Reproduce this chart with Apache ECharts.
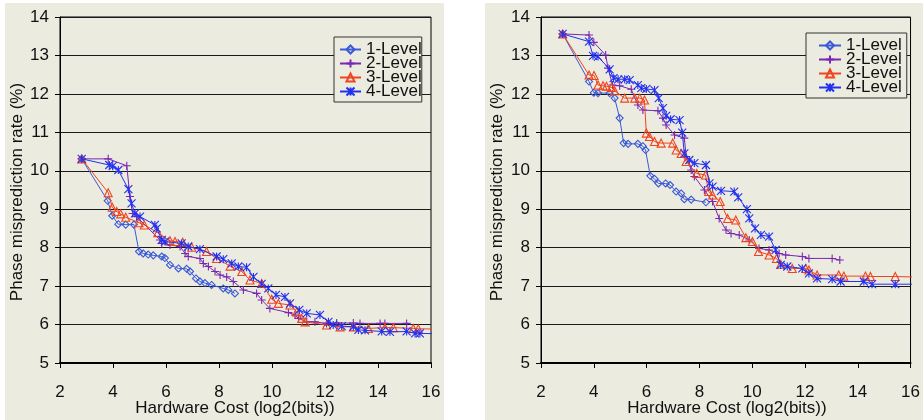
<!DOCTYPE html>
<html>
<head>
<meta charset="utf-8">
<script src="https://cdn.jsdelivr.net/npm/echarts@6/dist/echarts.min.js"></script>
<style>html,body{margin:0;padding:0;background:#fff;}#c{width:923px;height:420px;}</style>
</head>
<body>
<div id="c"></div>
<script>
// ---------- data ----------
const seriesNames = ['1-Level', '2-Level', '3-Level', '4-Level'];
const xTicks = [2, 4, 6, 8, 10, 12, 14, 16];
const yTicks = [5, 6, 7, 8, 9, 10, 11, 12, 13, 14];

const left1 = [[2.82,10.31],[3.80,9.22],[3.97,8.83],[4.20,8.61],[4.48,8.60],[4.79,8.60],[4.98,7.90],[5.14,7.85],[5.33,7.82],[5.52,7.80],[5.84,7.77],[5.96,7.73],[6.15,7.55],[6.47,7.46],[6.78,7.45],[6.91,7.38],[7.13,7.20],[7.28,7.12],[7.47,7.08],[7.72,7.03],[8.16,6.94],[8.35,6.90],[8.60,6.81]];
const left2 = [[2.82,10.31],[3.82,10.31],[4.52,10.13],[4.64,9.33],[4.74,8.89],[4.89,8.81],[5.77,8.20],[5.84,8.11],[6.15,8.07],[6.53,8.03],[6.72,7.85],[6.84,7.77],[7.28,7.72],[7.41,7.59],[7.60,7.51],[7.85,7.38],[8.04,7.29],[8.29,7.24],[8.54,7.12],[8.92,6.90],[9.42,6.81],[9.61,6.64],[9.92,6.42],[10.62,6.31],[10.87,6.25],[11.00,6.16],[11.31,6.07],[11.62,6.07],[12.06,6.03],[12.44,6.04],[13.07,6.04],[13.32,6.03],[14.08,6.03],[14.26,6.03],[15.08,6.03]];
const left3 = [[2.82,10.31],[3.82,9.43],[3.97,9.05],[4.14,8.94],[4.29,8.88],[4.48,8.79],[4.98,8.65],[5.18,8.59],[5.69,8.39],[6.15,8.18],[6.34,8.16],[6.63,8.14],[6.97,8.01],[7.53,7.90],[7.91,7.72],[8.42,7.52],[8.86,7.38],[9.17,7.16],[9.61,7.07],[9.99,6.66],[10.24,6.55],[10.68,6.51],[10.93,6.33],[11.12,6.16],[11.25,6.07],[12.06,5.99],[12.57,5.94],[13.07,5.94],[13.64,5.90],[14.26,5.92],[14.58,5.92],[15.33,5.90],[15.52,5.89],[16.30,5.88]];
const left4 = [[2.82,10.31],[3.86,10.15],[3.99,10.12],[4.20,10.02],[4.58,9.52],[4.70,9.15],[4.83,8.89],[5.02,8.81],[5.58,8.59],[5.65,8.50],[5.84,8.20],[5.96,8.16],[6.59,8.11],[6.84,8.03],[7.28,7.96],[7.91,7.77],[8.16,7.70],[8.48,7.59],[8.73,7.51],[9.04,7.49],[9.30,7.24],[9.61,7.06],[9.86,6.94],[10.15,6.77],[10.49,6.72],[10.68,6.55],[11.03,6.38],[11.31,6.29],[11.81,6.25],[12.13,6.07],[12.31,5.99],[12.63,5.96],[13.07,5.94],[13.26,5.86],[13.51,5.85],[14.14,5.82],[14.45,5.81],[15.08,5.82],[15.40,5.77],[15.58,5.77],[16.30,5.76]];

const right1 = [[2.82,13.56],[3.82,12.32],[4.00,12.03],[4.16,12.02],[4.60,12.02],[4.79,11.89],[4.98,11.37],[5.13,10.72],[5.30,10.70],[5.67,10.70],[5.86,10.64],[5.96,10.54],[6.14,9.87],[6.30,9.79],[6.45,9.67],[6.72,9.67],[6.89,9.63],[7.12,9.46],[7.31,9.41],[7.43,9.26],[7.69,9.25],[8.25,9.18]];
const right2 = [[2.82,13.56],[3.82,13.53],[4.00,13.34],[4.45,13.01],[4.54,12.67],[4.71,12.23],[4.98,12.21],[5.42,12.12],[5.67,11.71],[5.86,11.58],[6.43,11.56],[6.62,11.37],[6.74,11.19],[7.06,10.93],[7.43,10.85],[7.50,10.37],[7.69,10.02],[7.81,9.85],[8.19,9.50],[8.50,9.20],[8.75,8.76],[9.01,8.46],[9.20,8.37],[9.51,8.33],[9.89,8.20],[10.26,7.98],[10.64,7.94],[11.02,7.85],[11.27,7.81],[11.90,7.77],[12.15,7.72],[13.03,7.72],[13.32,7.68]];
const right3 = [[2.82,13.56],[3.82,12.49],[4.01,12.48],[4.16,12.23],[4.35,12.21],[4.48,12.20],[4.67,12.17],[4.79,12.08],[5.17,11.89],[5.55,11.89],[5.74,11.89],[5.92,11.84],[5.99,10.98],[6.11,10.89],[6.30,10.76],[6.55,10.72],[6.99,10.72],[7.12,10.54],[7.31,10.45],[7.50,10.24],[7.90,9.93],[8.23,9.89],[8.35,9.46],[8.50,9.37],[8.79,9.20],[9.07,8.76],[9.38,8.72],[9.76,8.26],[10.01,8.16],[10.24,7.90],[10.64,7.81],[10.92,7.72],[11.08,7.57],[11.52,7.46],[12.03,7.46],[12.15,7.42],[12.46,7.29],[13.28,7.29],[13.47,7.26],[14.29,7.26],[14.48,7.25],[15.42,7.25],[16.42,7.23]];
const right4 = [[2.82,13.56],[3.82,13.36],[3.97,12.99],[4.16,12.97],[4.60,12.64],[4.75,12.41],[4.92,12.38],[5.17,12.38],[5.36,12.36],[5.67,12.23],[5.80,12.15],[5.99,12.13],[6.30,12.10],[6.46,11.89],[6.62,11.63],[6.74,11.43],[6.91,11.34],[7.25,11.32],[7.35,10.99],[7.43,10.45],[7.62,10.28],[7.81,10.20],[8.25,10.15],[8.38,9.67],[8.50,9.59],[8.82,9.48],[9.32,9.46],[9.47,9.31],[9.80,9.00],[9.89,8.76],[10.11,8.50],[10.33,8.33],[10.64,8.29],[10.89,7.94],[11.08,7.55],[11.33,7.51],[11.90,7.46],[12.15,7.33],[12.46,7.20],[13.03,7.18],[13.35,7.12],[14.23,7.12],[14.54,7.05],[15.42,7.05],[16.42,7.05]];

const xTitle = 'Hardware Cost (log2(bits))';
const yTitle = 'Phase misprediction rate (%)';

// ---------- styling ----------
const BEIGE = '#ECEBE0';
const FONT = "'Liberation Sans', Arial, sans-serif";
const TXT = '#111';
const FS = 17;
const colors = ['#3A5AD8', '#7A28B0', '#F0441E', '#2230F0'];
const symbols = [
  'diamond',
  'path://M0,5L10,5M5,0L5,10',
  'triangle',
  'path://M0,0L10,10M10,0L0,10M5,0L5,10'
];
const symSizes = [7, 8, 8, 8];

const chart = echarts.init(document.getElementById('c'), null, {renderer: 'canvas'});

function makeAxes(idx, left) {
  return {
    grid: {left: left, top: 17, width: 371, height: 346, show: true, borderColor: '#000', borderWidth: 1, backgroundColor: 'transparent'},
    x: {
      type: 'value', gridIndex: idx, min: xTicks[0], max: xTicks[xTicks.length - 1], interval: 2,
      axisLine: {show: true, onZero: false, lineStyle: {color: '#000', width: 2}},
      axisTick: {show: true, inside: false, length: 5, lineStyle: {color: '#000'}},
      axisLabel: {show: true, margin: 21, fontSize: FS, color: TXT, fontFamily: FONT},
      splitLine: {show: false}
    },
    y: {
      type: 'value', gridIndex: idx, min: yTicks[0], max: yTicks[yTicks.length - 1], interval: 1,
      axisLine: {show: true, onZero: false, lineStyle: {color: '#000', width: 1}},
      axisTick: {show: true, inside: false, length: 5, lineStyle: {color: '#000'}},
      axisLabel: {show: true, margin: 11, fontSize: FS, color: TXT, fontFamily: FONT},
      splitLine: {show: true, lineStyle: {color: '#1a1a1a', width: 1}}
    }
  };
}
const a0 = makeAxes(0, 60), a1 = makeAxes(1, 541);

function mkSeries(data, k, idx) {
  return {
    type: 'line', name: seriesNames[k], xAxisIndex: idx, yAxisIndex: idx,
    clip: false, animation: false,
    data: data.map(p => p[0] > 16 ? {value: p, symbol: 'none'} : p),
    symbol: symbols[k], symbolSize: symSizes[k], showAllSymbol: true,
    lineStyle: {color: colors[k], width: 1},
    itemStyle: {color: 'rgba(0,0,0,0)', borderColor: colors[k], borderWidth: 1.1},
    emphasis: {disabled: true},
    z: 2 + k
  };
}
const leftData = [left1, left2, left3, left4];
const rightData = [right1, right2, right3, right4];
const series = [];
leftData.forEach((d, k) => series.push(mkSeries(d, k, 0)));
rightData.forEach((d, k) => series.push(mkSeries(d, k, 1)));

function mkLegend(left, top, pad, iw) {
  return {
    data: seriesNames, orient: 'vertical', left: left, top: top,
    padding: pad, itemGap: -3, itemWidth: iw, itemHeight: 10,
    backgroundColor: BEIGE, borderColor: '#333', borderWidth: 1, borderRadius: 0,
    selectedMode: false,
    textStyle: {fontSize: FS, color: TXT, fontFamily: FONT}
  };
}

chart.setOption({
  backgroundColor: '#ffffff',
  animation: false,
  textStyle: {fontFamily: FONT},
  grid: [a0.grid, a1.grid],
  xAxis: [a0.x, a1.x],
  yAxis: [a0.y, a1.y],
  legend: [mkLegend(334, 37, [4, 0, 2, 5], 21), mkLegend(806, 33, [4, 5, 2, 12], 22)],
  graphic: [
    {type: 'rect', shape: {x: 5, y: 3, width: 439, height: 417}, style: {fill: BEIGE}, z: -100, silent: true},
    {type: 'rect', shape: {x: 485, y: 3, width: 438, height: 417}, style: {fill: BEIGE}, z: -100, silent: true},
    {type: 'text', x: 235, y: 408, style: {text: xTitle, fontSize: FS, fill: TXT, fontFamily: FONT, align: 'center', verticalAlign: 'middle'}, silent: true},
    {type: 'text', x: 727, y: 408, style: {text: xTitle, fontSize: FS, fill: TXT, fontFamily: FONT, align: 'center', verticalAlign: 'middle'}, silent: true},
    {type: 'text', x: 17, y: 192, rotation: Math.PI / 2, style: {text: yTitle, fontSize: FS, fill: TXT, fontFamily: FONT, align: 'center', verticalAlign: 'middle'}, silent: true},
    {type: 'text', x: 497, y: 192, rotation: Math.PI / 2, style: {text: yTitle, fontSize: FS, fill: TXT, fontFamily: FONT, align: 'center', verticalAlign: 'middle'}, silent: true}
  ],
  series: series
});
</script>
</body>
</html>
